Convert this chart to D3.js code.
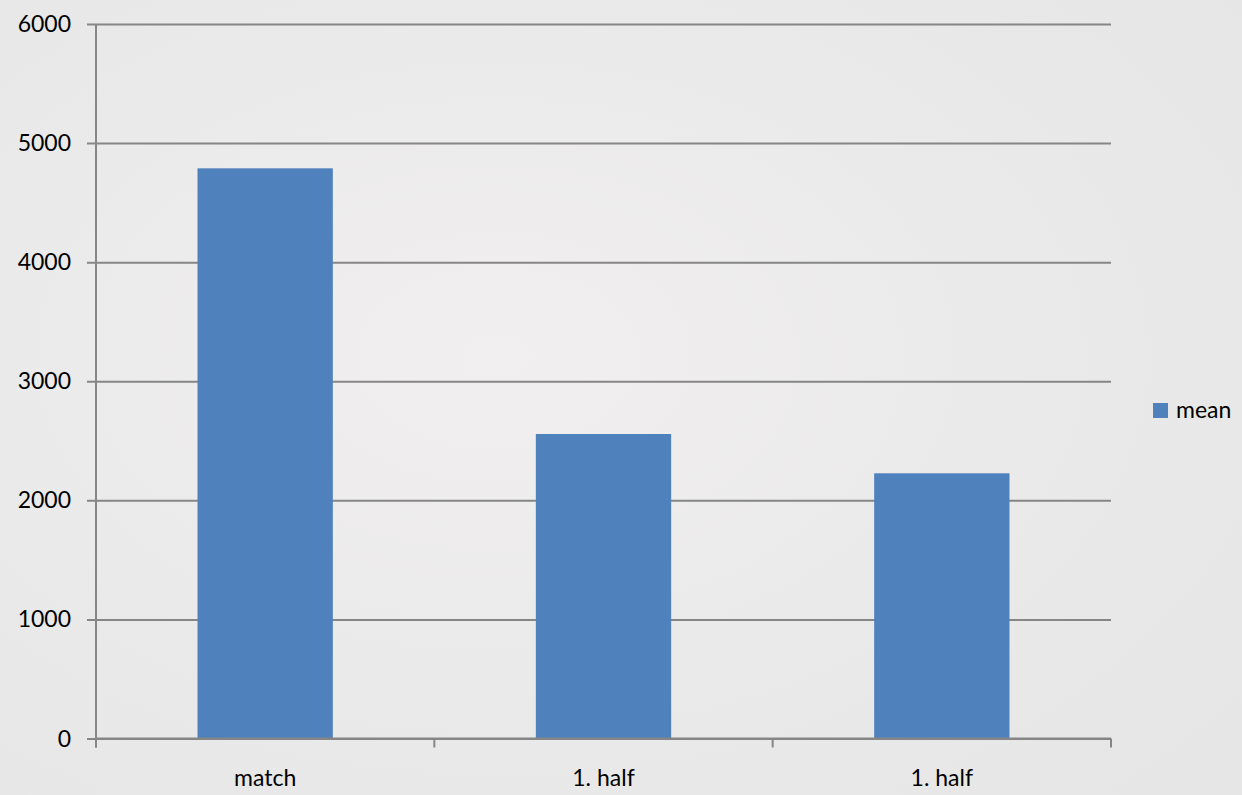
<!DOCTYPE html>
<html>
<head>
<meta charset="utf-8">
<script src="https://cdn.jsdelivr.net/npm/d3@7"></script>
<style>
  html, body { margin: 0; padding: 0; background: #ececec; }
  svg { display: block; font-family: Lato, "Open Sans", sans-serif; }
</style>
</head>
<body>
<svg id="chart" width="1242" height="795"></svg>
<script>
// Chart data
var categories = ['match', '1. half', '1. half'];
var meanValues = [4788, 2557, 2227];
var yTicks = [0, 1000, 2000, 3000, 4000, 5000, 6000];
var seriesName = 'mean';

var W = 1242, H = 795;
var plot = { left: 96, right: 1111, top: 24, bottom: 738.5 };
var barColor = '#4f81bd';
var gridColor = '#868686';
var fontSize = 23;

var svg = d3.select('#chart');

// Light grey paper-ish background
var defs = svg.append('defs');
var grad = defs.append('radialGradient').attr('id', 'bg').attr('cx', '40%').attr('cy', '45%').attr('r', '75%');
grad.append('stop').attr('offset', '0%').attr('stop-color', '#f1efef');
grad.append('stop').attr('offset', '100%').attr('stop-color', '#e6e6e6');
svg.append('rect').attr('width', W).attr('height', H).attr('fill', 'url(#bg)');

// Scales
var x = d3.scaleBand()
    .domain(d3.range(categories.length))
    .range([plot.left, plot.right])
    .paddingInner(0.6)
    .paddingOuter(0.3);

var y = d3.scaleLinear()
    .domain([0, 6000])
    .range([plot.bottom, plot.top]);

// Horizontal gridlines (with tick stubs on the left)
svg.append('g')
    .attr('transform', 'translate(' + plot.left + ',0)')
    .call(d3.axisLeft(y).tickValues(yTicks).tickSize(-(plot.right - plot.left)).tickFormat(''))
    .call(function(g){ g.select('.domain').remove(); })
    .selectAll('line')
    .attr('x1', -9)
    .attr('stroke', gridColor)
    .attr('stroke-width', 2);

// Bars
svg.append('g')
  .selectAll('rect')
  .data(meanValues)
  .enter().append('rect')
    .attr('x', function(d, i) { return x(i); })
    .attr('y', function(d) { return y(d); })
    .attr('width', x.bandwidth())
    .attr('height', function(d) { return y(0) - y(d); })
    .attr('fill', barColor);

// X axis line + ticks at band boundaries
var xBounds = d3.range(categories.length + 1).map(function(i){
    return plot.left + i * (plot.right - plot.left) / categories.length;
});
svg.append('line')
    .attr('x1', plot.left).attr('x2', plot.right)
    .attr('y1', y(0)).attr('y2', y(0))
    .attr('stroke', gridColor).attr('stroke-width', 2);
svg.append('g').selectAll('line')
  .data(xBounds)
  .enter().append('line')
    .attr('x1', function(d){ return d; }).attr('x2', function(d){ return d; })
    .attr('y1', y(0)).attr('y2', y(0) + 9)
    .attr('stroke', gridColor).attr('stroke-width', 2);

// Y axis line
svg.append('line')
    .attr('x1', plot.left).attr('x2', plot.left)
    .attr('y1', plot.top).attr('y2', y(0) + 9)
    .attr('stroke', gridColor).attr('stroke-width', 2);

// Y labels
svg.append('g').selectAll('text')
  .data(yTicks)
  .enter().append('text')
    .attr('x', 71)
    .attr('y', function(d){ return y(d) + 8; })
    .attr('text-anchor', 'end')
    .attr('font-size', fontSize)
    .attr('fill', '#000')
    .text(function(d){ return d; });

// X labels
svg.append('g').selectAll('text')
  .data(categories)
  .enter().append('text')
    .attr('x', function(d, i){ return x(i) + x.bandwidth() / 2; })
    .attr('y', 786)
    .attr('text-anchor', 'middle')
    .attr('font-size', fontSize)
    .attr('fill', '#000')
    .text(function(d){ return d; });

// Legend
var legend = svg.append('g').attr('transform', 'translate(1153,403)');
legend.append('rect').attr('width', 15).attr('height', 15).attr('fill', barColor);
legend.append('text').attr('x', 23).attr('y', 15).attr('font-size', fontSize).attr('fill', '#000').text(seriesName);
</script>
</body>
</html>
